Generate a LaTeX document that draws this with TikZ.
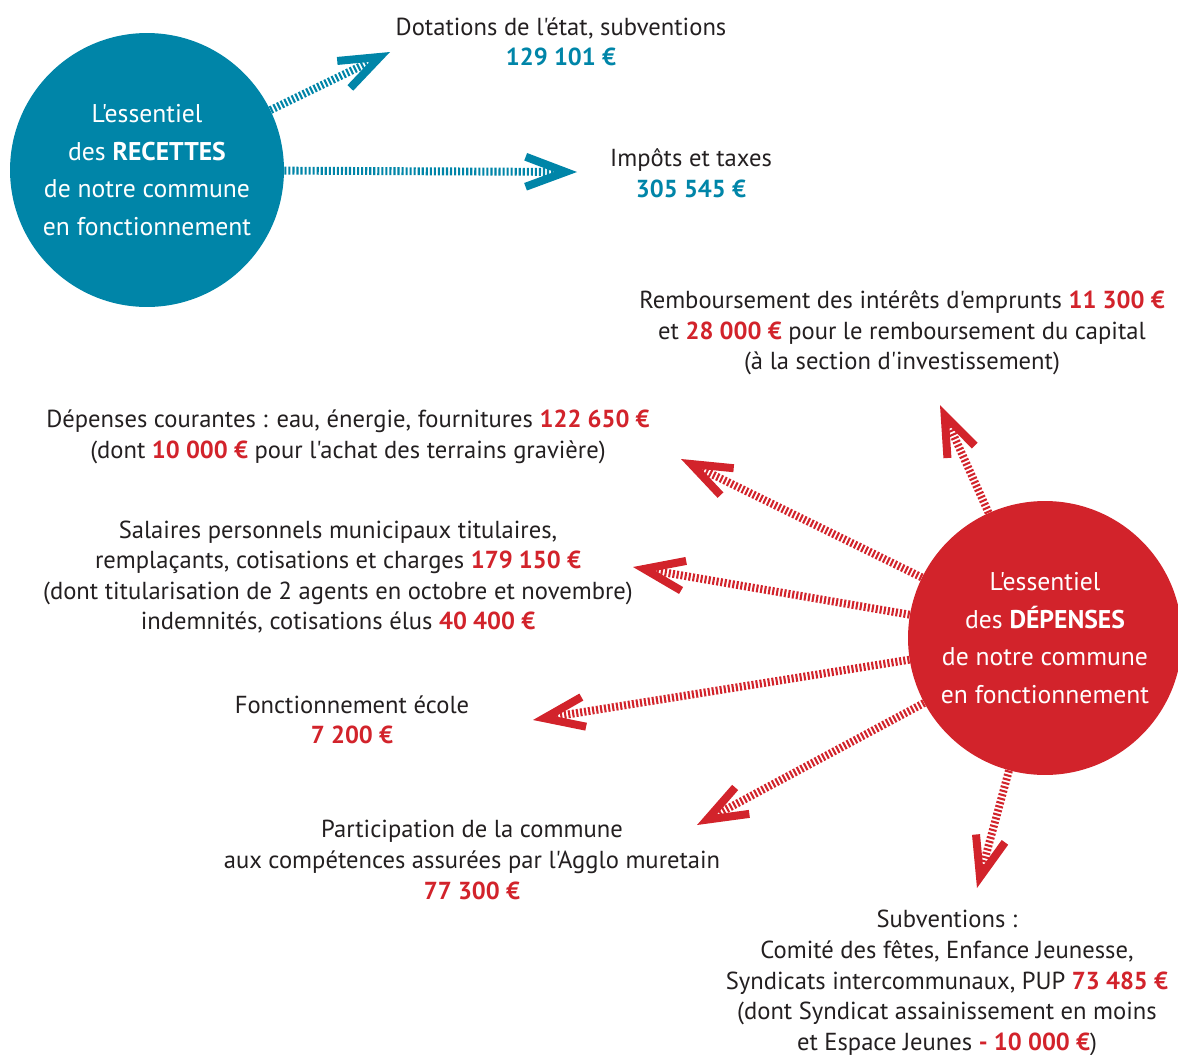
\documentclass[tikz,border=0pt]{standalone}
\usepackage{fontspec}
\defaultfontfeatures[\rmfamily,\sffamily]{}
\setmainfont{PT Sans}
\usetikzlibrary{arrows.meta}
\definecolor{recbleu}{RGB}{0,133,168}
\definecolor{deprouge}{RGB}{210,35,43}
\definecolor{texte}{RGB}{35,31,32}
\newcommand{\mtbleu}[1]{\textbf{\color{recbleu}#1}}
\newcommand{\mtrouge}[1]{\textbf{\color{deprouge}#1}}
\begin{document}
\begin{tikzpicture}
    [
    x=0.02cm,y=-0.02cm,
    bulle/.style={circle,minimum size=5.48cm,inner sep=0pt,text=white,align=center,font=\fontsize{14.6}{21.3}\selectfont},
    txt/.style={align=center,text=texte,font=\fontsize{14}{17.4}\selectfont},
    fleche/.style={line width=4.5pt,dash pattern=on 1.2pt off 1.1pt,-{Straight Barb[length=0.8cm,width=0.6cm,line width=0.16cm,sharp]}}
    ]
    \useasboundingbox (0,0) rectangle (1178,1055);
    % les deux bulles
    \node (rec) at (147,170) [bulle,fill=recbleu] {L'essentiel\\des \textbf{RECETTES}\\de notre commune\\en fonctionnement};
    \node (dep) at (1045,638) [bulle,fill=deprouge] {L'essentiel\\des \textbf{DÉPENSES}\\de notre commune\\en fonctionnement};
    % recettes
    \node (dot) at (561,42) [txt] {Dotations de l'état, subventions\\\mtbleu{129 101 €}};
    \node (imp) at (691,173) [txt] {Impôts et taxes\\\mtbleu{305 545 €}};
    \coordinate (pdot) at (390,52);
    \coordinate (pimp) at (577,172);
    \draw [fleche,recbleu] (rec) to (pdot);
    \draw [fleche,recbleu] (rec) to (pimp);
    % depenses
    \node (remb) at (902,333) [txt] {Remboursement des intérêts d'emprunts \mtrouge{11 300 €}\\et \mtrouge{28 000 €} pour le remboursement du capital\\(à la section d'investissement)};
    \node (cour) at (348,437) [txt] {Dépenses courantes : eau, énergie, fournitures \mtrouge{122 650 €}\\(dont \mtrouge{10 000 €} pour l'achat des terrains gravière)};
    \node (sal) at (338,577) [txt] {Salaires personnels municipaux titulaires,\\remplaçants, cotisations et charges \mtrouge{179 150 €}\\(dont titularisation de 2 agents en octobre et novembre)\\indemnités, cotisations élus \mtrouge{40 400 €}};
    \node (ecole) at (352,720) [txt] {Fonctionnement école\\\mtrouge{7 200 €}};
    \node (agglo) at (472,860) [txt] {Participation de la commune\\aux compétences assurées par l'Agglo muretain\\\mtrouge{77 300 €}};
    \node (subv) at (947,983) [txt] {Subventions :\\Comité des fêtes, Enfance Jeunesse,\\Syndicats intercommunaux, PUP \mtrouge{73 485 €}\\(dont Syndicat assainissement en moins\\et Espace Jeunes \mtrouge{- 10 000 €})};
    \coordinate (premb) at (940,405);
    \coordinate (pcour) at (681,459);
    \coordinate (psal) at (633,567);
    \coordinate (pecole) at (533,720);
    \coordinate (pagglo) at (697,825);
    \coordinate (psubv) at (977,888);
    \draw [fleche,deprouge] (dep) to (premb);
    \draw [fleche,deprouge] (dep) to (pcour);
    \draw [fleche,deprouge] (dep) to (psal);
    \draw [fleche,deprouge] (dep) to (pecole);
    \draw [fleche,deprouge] (dep) to (pagglo);
    \draw [fleche,deprouge] (dep) to (psubv);
  \end{tikzpicture}
\end{document}
